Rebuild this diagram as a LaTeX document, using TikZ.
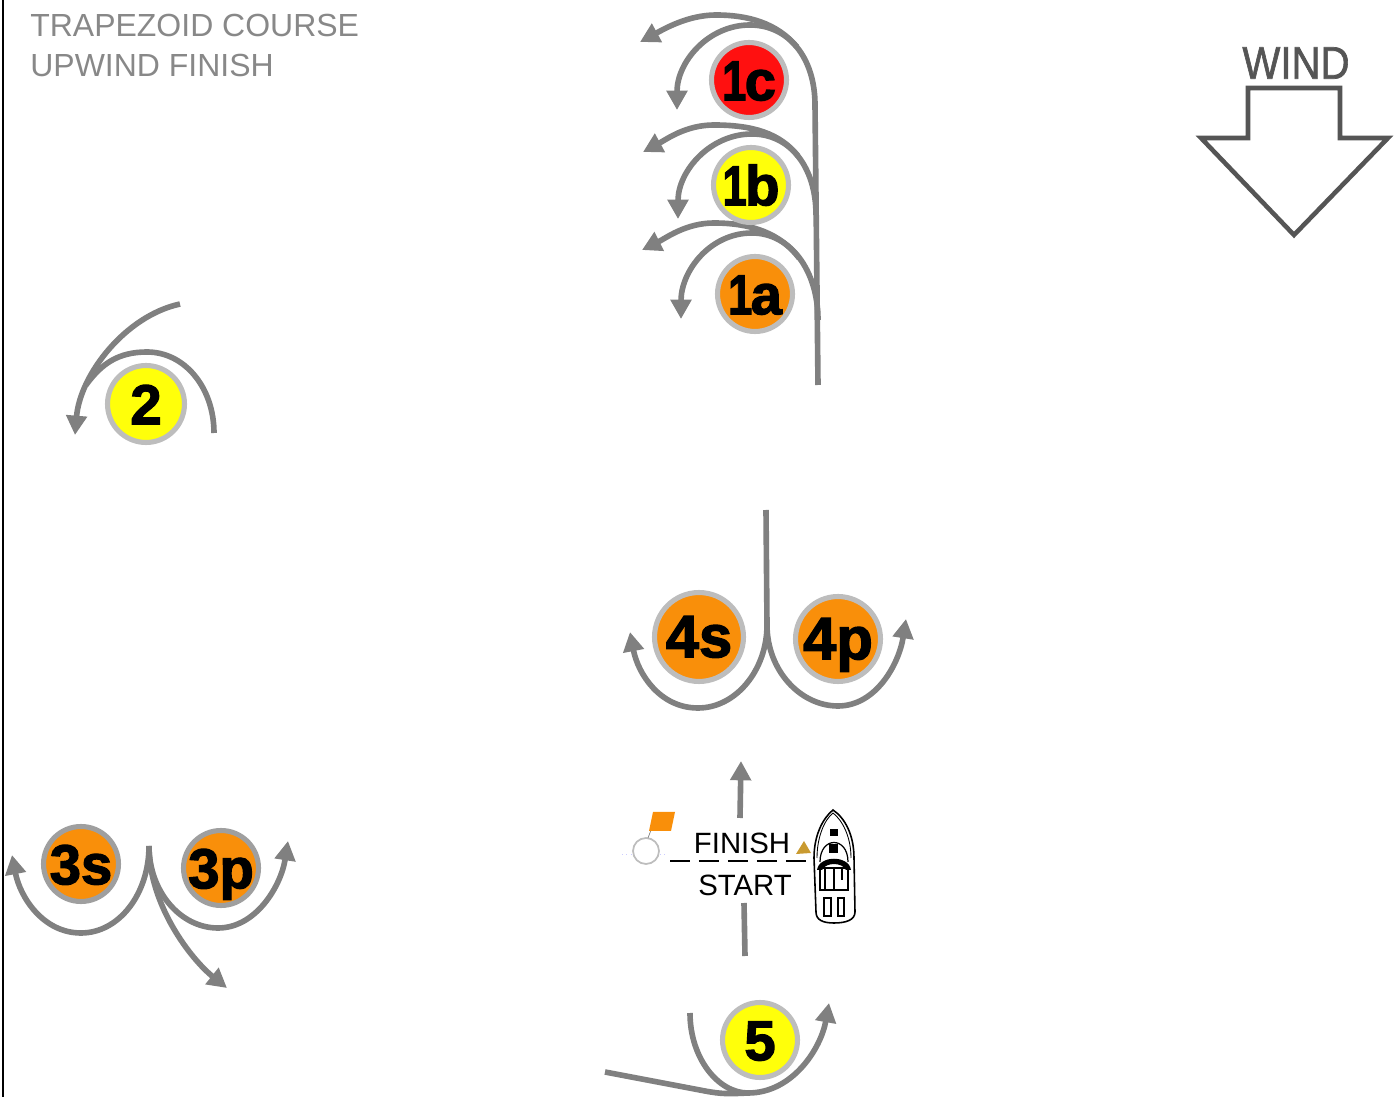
\documentclass[tikz,border=0pt]{standalone}
\usepackage{fontspec}
\setmainfont{Liberation Sans}
\newfontfamily\buoyfont[BoldFeatures={FakeBold=2.2}]{Liberation Sans}
\newfontfamily\windfont[FakeBold=1.5]{Liberation Sans}
\usetikzlibrary{arrows.meta}
\definecolor{trackgray}{HTML}{808080}
\definecolor{titlegray}{HTML}{888888}
\definecolor{windgray}{HTML}{555555}
\definecolor{ringgray}{HTML}{BDBDBD}
\definecolor{buoyorange}{HTML}{F98F0A}
\definecolor{buoyyellow}{HTML}{FFFF0A}
\definecolor{buoyred}{HTML}{FF1010}
\definecolor{pennant}{HTML}{C99A30}
\newcommand{\buoytext}[1]{\makebox[0pt]{#1}}
\newcommand{\buoyone}{\scalebox{0.78}[1]{1}\kern-.03em}
\begin{document}
\begin{tikzpicture}[x=0.02cm,y=-0.02cm,
track/.style={draw=trackgray,line width=3.2pt},
arrowtrack/.style={track,-{Triangle[length=11pt,width=11.5pt]}},
buoy/.style={circle,draw=ringgray,line width=2.9pt,minimum size=#1*0.04cm-0.1cm,inner sep=0pt,text height=23pt,text depth=0pt,font=\buoyfont\bfseries\fontsize{32}{32}\selectfont}]
\useasboundingbox (0,0) rectangle (1397,1097);
\draw[black,line width=1.5pt] (3,0) -- (3,1097);

\node[anchor=west,inner sep=0pt,text=titlegray,font=\fontsize{18.2}{22}\selectfont] (title1) at (30,26) {TRAPEZOID COURSE};
\node[anchor=west,inner sep=0pt,text=titlegray,font=\fontsize{18.2}{22}\selectfont] (title2) at (30,66) {UPWIND FINISH};

% wind
\node[text=windgray,font=\windfont\fontsize{26}{26}\selectfont,xscale=0.88] (wind) at (1296,63) {WIND};
\draw[windgray,line width=2.6pt,miter limit=4] (1248,88) -- (1340,88) -- (1340,138) -- (1388,138) -- (1294,235) -- (1201,138) -- (1248,138) -- cycle;

% mark 1
\coordinate (leg) at (818,385);
\coordinate (c1) at (815,105);
\coordinate (c2) at (750,25);
\coordinate (c3) at (677,110);
\coordinate (c4) at (797,47);
\coordinate (c5) at (716,15);
\coordinate (c6) at (640,42);
\draw[track] (leg) -- (c1);
\draw[arrowtrack] (c1) .. controls +(0,-48) and +(38,0) .. (c2) .. controls +(-42,0) and +(0,-48) .. (c3);
\draw[arrowtrack] (c4) .. controls +(-20,-24) and +(32,0) .. (c5) .. controls +(-28,0) and +(24,-13) .. (c6);
\coordinate (b1) at (816,215);
\coordinate (b2) at (752,134);
\coordinate (b3) at (678,219);
\coordinate (b4) at (798,156);
\coordinate (b5) at (714,125);
\coordinate (b6) at (643,152);
\draw[arrowtrack] (b1) .. controls +(0,-48) and +(38,0) .. (b2) .. controls +(-42,0) and +(0,-48) .. (b3);
\draw[arrowtrack] (b4) .. controls +(-18,-23) and +(38,0) .. (b5) .. controls +(-28,0) and +(24,-13) .. (b6);
\coordinate (a1) at (818,320);
\coordinate (a2) at (752,233);
\coordinate (a3) at (681,319);
\coordinate (a4) at (799,258);
\coordinate (a5) at (714,223);
\coordinate (a6) at (642,250);
\draw[arrowtrack] (a1) .. controls +(0,-50) and +(38,0) .. (a2) .. controls +(-42,0) and +(0,-48) .. (a3);
\draw[arrowtrack] (a4) .. controls +(-18,-24) and +(38,0) .. (a5) .. controls +(-28,0) and +(24,-12) .. (a6);
\node[buoy=40,fill=buoyred] (m1c) at (749,80) {\buoytext{\buoyone c}};
\node[buoy=40,fill=buoyyellow] (m1b) at (751,185) {\buoytext{\buoyone b}};
\node[buoy=40,fill=buoyorange] (m1a) at (755,294) {\buoytext{\buoyone a}};

% mark 2
\coordinate (t1) at (214,433);
\coordinate (t2) at (147,352);
\coordinate (t3) at (75,435);
\coordinate (t4) at (180,304);
\coordinate (t5) at (86,385);
\draw[track] (t1) .. controls +(0,-45) and +(38,0) .. (t2) .. controls +(-28,0) and +(16,-22) .. (t5);
\draw[arrowtrack] (t4) .. controls +(-55,12) and +(5,-60) .. (t3);
\node[buoy=41,fill=buoyyellow] (m2) at (146,404) {\buoytext{2}};

% mark 4
\coordinate (g1) at (766,510);
\coordinate (g2) at (767,625);
\coordinate (g3) at (698,708);
\coordinate (g4) at (630,632);
\coordinate (g5) at (838,706);
\coordinate (g6) at (906,619);
\draw[track] (g1) -- (g2);
\draw[arrowtrack] (g2) .. controls +(0,45) and +(38,0) .. (g3) .. controls +(-38,0) and +(8,42) .. (g4);
\draw[arrowtrack] (g2) .. controls +(0,45) and +(-38,0) .. (g5) .. controls +(38,0) and +(-7,45) .. (g6);
\node[buoy=47,fill=buoyorange,font=\buoyfont\bfseries\fontsize{34}{34}\selectfont] (m4s) at (699,637) {\buoytext{4s}};
\node[buoy=45,fill=buoyorange,font=\buoyfont\bfseries\fontsize{34}{34}\selectfont] (m4p) at (838,639) {\buoytext{4p}};

% mark 3
\coordinate (s1) at (149,846);
\coordinate (s2) at (81,933);
\coordinate (s3) at (12,855);
\coordinate (s4) at (218,928);
\coordinate (s5) at (288,841);
\coordinate (s6) at (227,988);
\draw[arrowtrack] (s1) .. controls +(0,48) and +(38,0) .. (s2) .. controls +(-38,0) and +(8,42) .. (s3);
\draw[arrowtrack] (s1) .. controls +(0,45) and +(-38,0) .. (s4) .. controls +(38,0) and +(-7,45) .. (s5);
\draw[arrowtrack] (s1) .. controls +(0,60) and +(-35,-28) .. (s6);
\node[buoy=40,draw=gray!75,fill=buoyorange] (m3s) at (81,864) {\buoytext{3s}};
\node[buoy=40,draw=gray!75,fill=buoyorange] (m3p) at (221,868) {\buoytext{3p}};

% mark 5
\coordinate (f1) at (690,1013);
\coordinate (f2) at (748,1093);
\coordinate (f3) at (829,1003);
\coordinate (f4) at (605,1072);
\coordinate (f5) at (705,1091);
\draw[arrowtrack] (f1) .. controls +(0,45) and +(-30,0) .. (f2) .. controls +(45,0) and +(-8,45) .. (f3);
\draw[track] (f4) -- (f5) .. controls +(16,3) and +(-20,1) .. (f2);
\node[buoy=40,fill=buoyyellow] (m5) at (760,1040) {\buoytext{5}};

% start line
\coordinate (u1) at (745,956);
\coordinate (u2) at (744,903);
\coordinate (u3) at (740,818);
\coordinate (u4) at (741,761);
\coordinate (d1) at (670,861);
\coordinate (d2) at (810,861);
\draw[track] (u1) -- (u2);
\draw[arrowtrack] (u3) -- (u4);
\draw[black,line width=1.5pt,dash pattern=on 11.4pt off 5.1pt] (d1) -- (d2);
\node[font=\fontsize{16.7}{20}\selectfont] (finish) at (742,843) {FINISH};
\node[font=\fontsize{16.7}{20}\selectfont] (start) at (745,885) {START};

% pin
\node[circle,draw=ringgray,line width=1pt,minimum size=0.52cm,inner sep=0pt] (pin) at (646,851) {};
\draw[gray] (648,838) -- (651,830);
\fill[buoyorange] (653,812) -- (675,812) -- (671,831) -- (649,831) -- cycle;
\draw[blue!20,line width=0.5pt,dotted] (622,854) -- (632,854) (660,854) -- (668,854);

% boat
\fill[pennant] (796,854) -- (804,841) -- (811,853) -- cycle;
\draw[black,fill=white,line width=0.9pt] (833,810) .. controls (845,818) and (854,835) .. (854,858) -- (855,912) .. controls (855,920) and (846,923) .. (834,923) .. controls (823,923) and (816,920) .. (816,912) -- (814,858) .. controls (814,835) and (823,818) .. (833,810) -- cycle;
\draw[black,line width=0.5pt] (833,813) .. controls (842,820) and (851,836) .. (851,858) (817,858) .. controls (817,838) and (824,820) .. (833,813);
\fill[black] (830,829) rectangle (838,836);
\fill[black] (829,844) rectangle (838,853);
\draw[black,line width=0.7pt] (820,862) .. controls (820,836) and (848,836) .. (848,862);
\fill[black] (817,870) .. controls (819,855) and (849,855) .. (851,870) -- (846,870) .. controls (842,862) and (826,862) .. (822,870) -- cycle;
\draw[black,line width=0.6pt] (820,868) rectangle (848,890) (825,868) -- (825,890) (834,868) -- (834,890) (842,868) -- (842,880);
\draw[black,line width=0.6pt] (824,898) rectangle (831,916) (838,898) rectangle (844,916);
\end{tikzpicture}
\end{document}
